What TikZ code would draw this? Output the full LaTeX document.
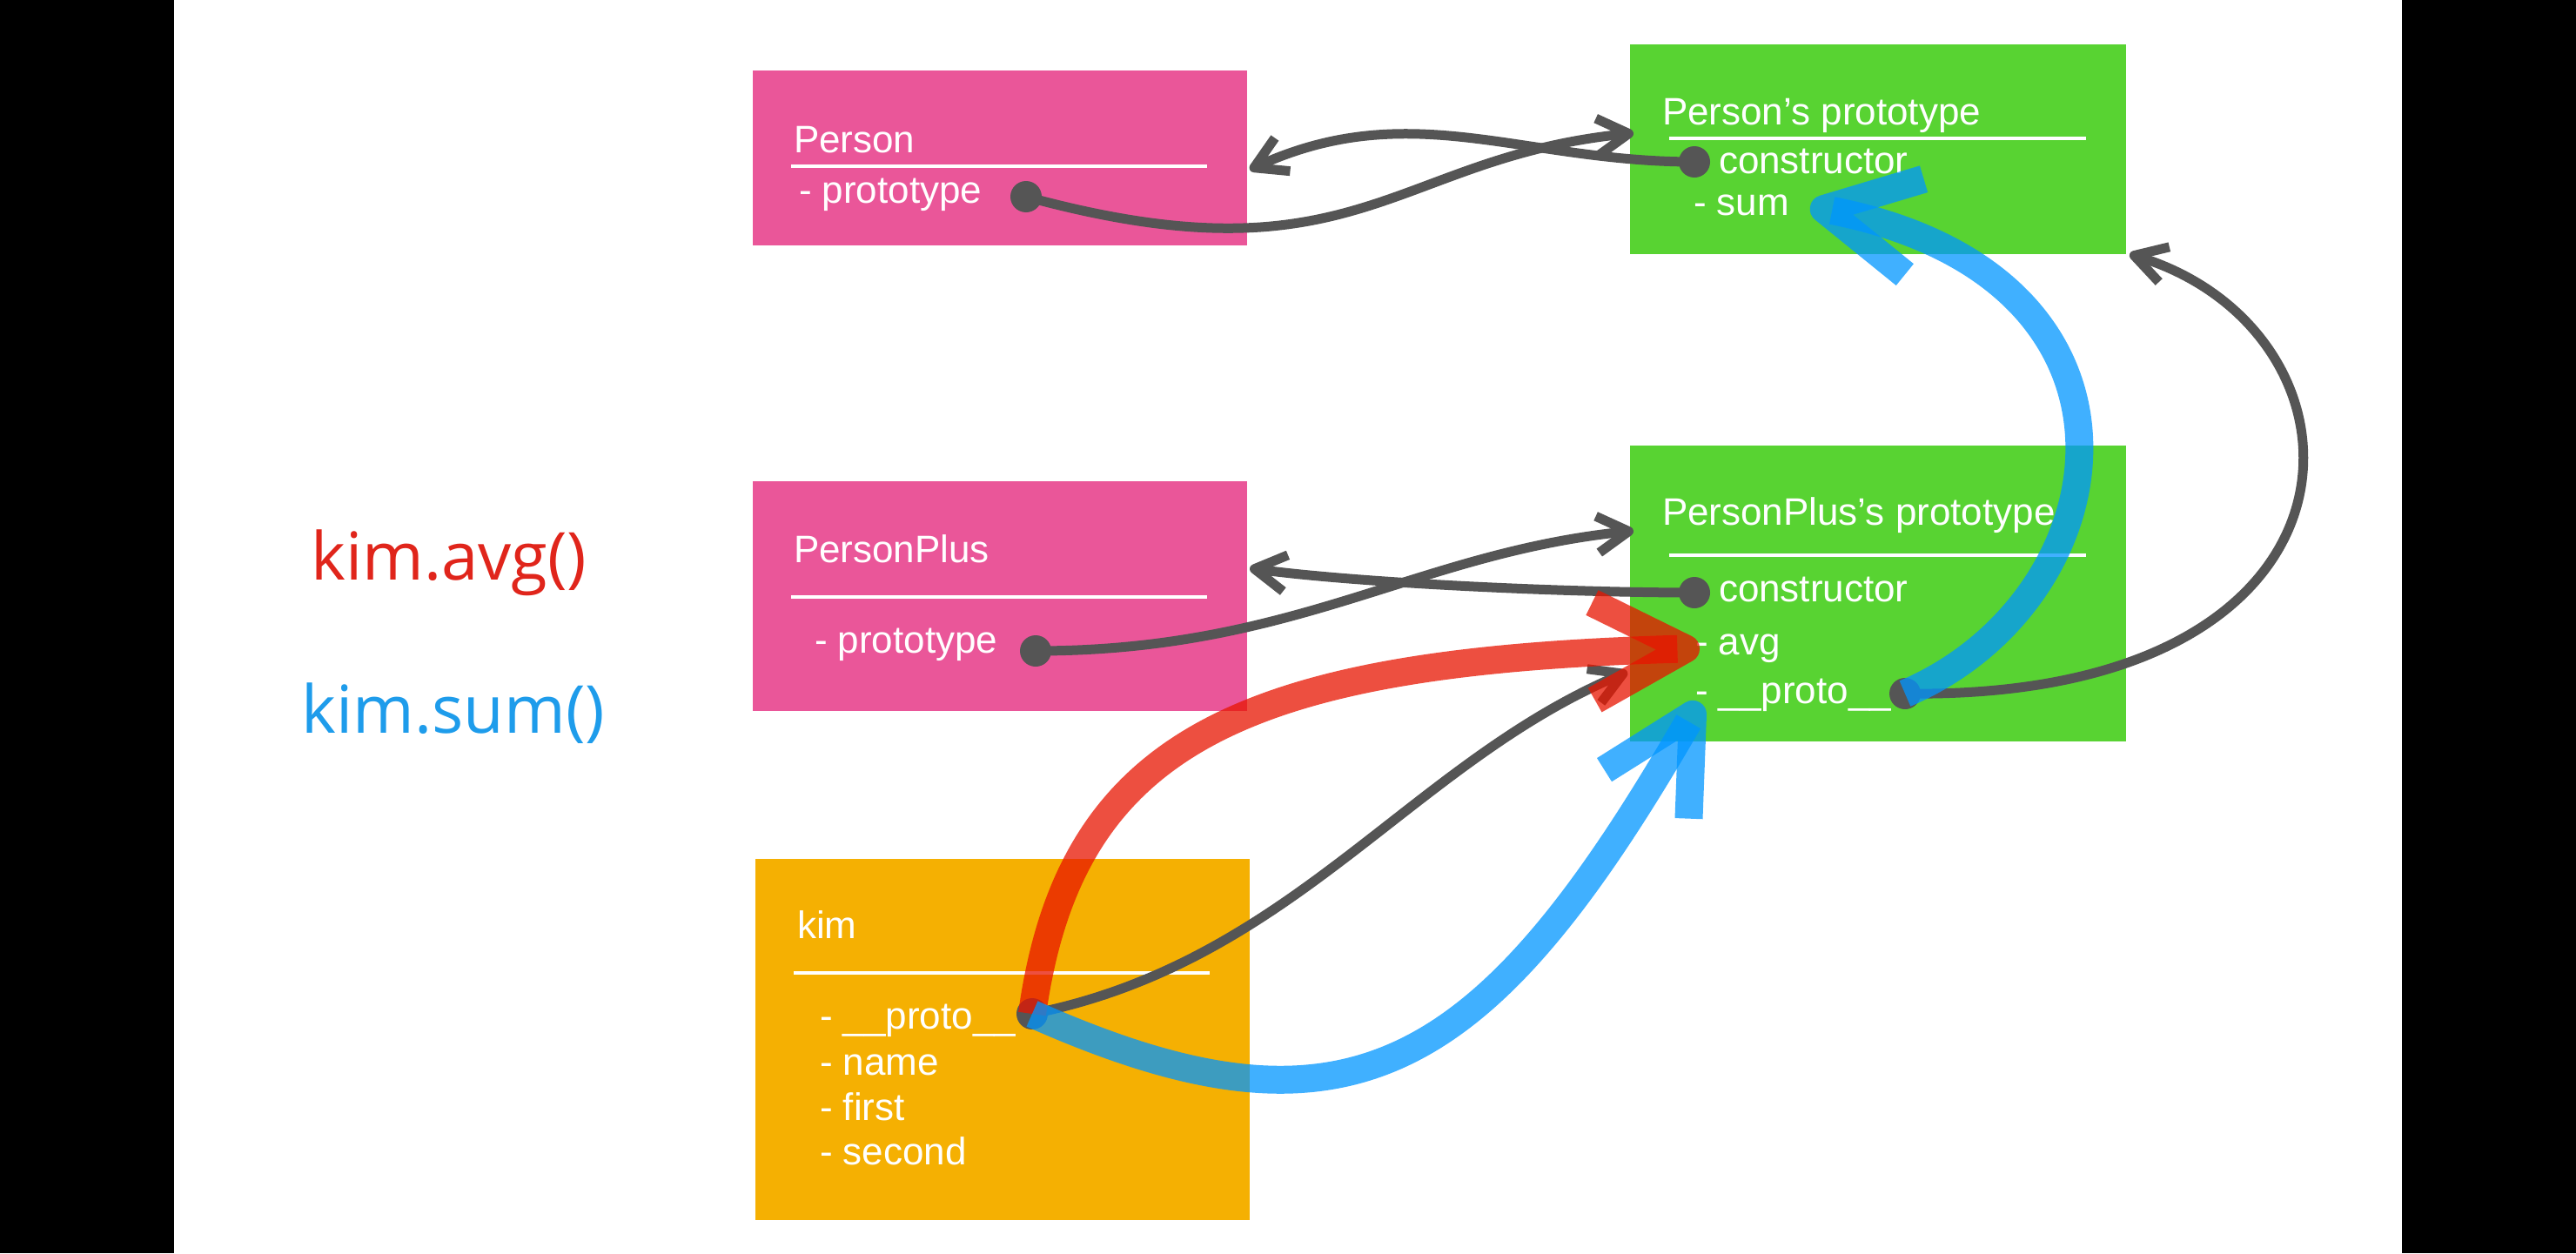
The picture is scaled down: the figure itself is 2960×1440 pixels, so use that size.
\documentclass[tikz,border=0pt]{standalone}
\usepackage{fontspec}
\setmainfont{Liberation Sans}
\newfontfamily\callfont{Open Sans}
\usetikzlibrary{arrows.meta}

\definecolor{personpink}{RGB}{234,86,153}
\definecolor{protogreen}{RGB}{88,211,50}
\definecolor{kimorange}{RGB}{245,176,2}
\definecolor{linkgray}{RGB}{85,85,85}
\definecolor{avgred}{RGB}{232,21,0}
\definecolor{sumblue}{RGB}{0,150,255}
\definecolor{avgtext}{RGB}{224,37,27}
\definecolor{sumtext}{RGB}{30,156,235}

% open chevron tip: rounded point, square-cut arm ends
\pgfdeclarearrow{
  name = Chev,
  parameters = {\the\pgfarrowlength,\the\pgfarrowwidth,\the\pgfarrowlinewidth},
  setup code = {
    \pgfarrowssettipend{.5\pgfarrowlinewidth}
    \pgfarrowssetlineend{-.3\pgfarrowlinewidth}
    \pgfarrowssetbackend{-\pgfarrowlength}
    \pgfarrowsupperhullpoint{-\pgfarrowlength}{.5\pgfarrowwidth}
    \pgfarrowshullpoint{.5\pgfarrowlinewidth}{0pt}
    \pgfarrowssavethe\pgfarrowlength
    \pgfarrowssavethe\pgfarrowwidth
    \pgfarrowssavethe\pgfarrowlinewidth
  },
  drawing code = {
    \pgfsetlinewidth{\pgfarrowlinewidth}
    \pgfsetroundjoin
    \pgfsetbuttcap
    \pgfsetdash{}{+0pt}
    \pgfpathmoveto{\pgfqpoint{-\pgfarrowlength}{.5\pgfarrowwidth}}
    \pgfpathlineto{\pgfpointorigin}
    \pgfpathlineto{\pgfqpoint{-\pgfarrowlength}{-.5\pgfarrowwidth}}
    \pgfusepathqstroke
  },
  defaults = {length = 18pt, width = 21pt, line width = +0pt 1 1}
}

\begin{document}
\begin{tikzpicture}[x=0.5pt, y=-0.5pt,
  objbox/.style={anchor=north west, inner sep=0pt, outer sep=0pt, minimum width=284pt},
  field/.style={anchor=base west, inner sep=0pt, outer sep=0pt, text=white,
    font=\fontsize{22pt}{26pt}\selectfont},
  titlerule/.style={draw=white, line width=1.6pt},
  dot/.style={circle, fill=linkgray, inner sep=0pt, outer sep=0pt, minimum size=18pt},
  link/.style={draw=linkgray, line width=5.5pt, -{Chev[length=18pt,width=21pt]}},
  bigarrow/.style={draw opacity=0.75, line width=16pt, -{Chev[length=53pt,width=56pt]}},
  avgpath/.style={bigarrow, draw=avgred},
  sumpath/.style={bigarrow, draw=sumblue},
  call/.style={anchor=base west, inner sep=0pt, font=\callfont\fontsize{38pt}{44pt}\selectfont},
]
\useasboundingbox (0,0) rectangle (2960,1440);
\fill[white] (0,0) rectangle (2960,1440);
\fill[black] (0,0) rectangle (200,1440);
\fill[black] (2760,0) rectangle (2960,1440);

% method calls
\node[call, text=avgtext] (callavg) at (357,666) {kim.avg()};
\node[call, text=sumtext] (callsum) at (346,842) {kim.sum()};

% Person
\node[objbox, fill=personpink, minimum height=100.5pt] (person) at (865,81) {};
\node[field] (personname) at (912,175) {Person};
\draw[titlerule] (909,191) -- (1387,191);
\node[field] (personfield) at (918,233) {- prototype};

% Person's prototype
\node[objbox, fill=protogreen, minimum width=285pt, minimum height=120.5pt] (pproto) at (1873,51) {};
\node[field] (pprotoname) at (1910,143) {Person’s prototype};
\draw[titlerule] (1918,159) -- (2397,159);
\node[field] (pprotocons) at (1975,199) {constructor};
\node[field] (pprotosum) at (1946,247) {- sum};

% PersonPlus
\node[objbox, fill=personpink, minimum height=132pt] (plus) at (865,553) {};
\node[field] (plusname) at (912,646) {PersonPlus};
\draw[titlerule] (909,686) -- (1387,686);
\node[field] (plusfield) at (936,750) {- prototype};

% PersonPlus's prototype
\node[objbox, fill=protogreen, minimum width=285pt, minimum height=170pt] (plproto) at (1873,512) {};
\node[field] (plprotoname) at (1910,603) {PersonPlus’s prototype};
\draw[titlerule] (1918,638) -- (2397,638);
\node[field] (plprotocons) at (1975,691) {constructor};
\node[field] (plprotoavg) at (1948,752) {- avg};
\node[field] (plprotolink) at (1948,808) {- \_\_proto\_\_};

% kim
\node[objbox, fill=kimorange, minimum height=207.5pt] (kim) at (868,987) {};
\node[field] (kimname) at (916,1078) {kim};
\draw[titlerule] (912,1118) -- (1390,1118);
\node[field] (kimlink) at (942,1182) {- \_\_proto\_\_};
\node[field] (kimname2) at (942,1235) {- name};
\node[field] (kimfirst) at (942,1287) {- first};
\node[field] (kimsecond) at (942,1338) {- second};

% reference dots
\node[dot] (d1) at (1179,226) {};
\node[dot] (d2) at (1947,186) {};
\node[dot] (d3) at (1190,748) {};
\node[dot] (d4) at (1947,681) {};
\node[dot] (d5) at (2189,797) {};
\node[dot] (d6) at (1186,1165) {};

% arrow targets
\coordinate (t1) at (1877,153);
\coordinate (t2) at (1436,195);
\coordinate (t3) at (1877,610);
\coordinate (t4) at (1436,653);
\coordinate (t5) at (2447,292);
\coordinate (t6) at (1870,772);
\coordinate (t7) at (1953,745);
\coordinate (t8) at (1953,807);
\coordinate (t9) at (2080,237);

% references
\draw[link] (d1.center) .. controls +(381,104) and +(-277,27) .. (t1);
\draw[link] (d2.center) .. controls +(-200,0) and +(184,-85) .. (t2);
\draw[link] (d3.center) .. controls +(300,0) and +(-250,25) .. (t3);
\draw[link] (d4.center) .. controls +(-147,0) and +(124,17) .. (t4);
\draw[link] (d5.center) .. controls +(561,8) and +(293,88) .. (t5);
\draw[link] (d6.center) .. controls +(300,-60) and +(-250,105) .. (t6);

% lookup paths
\draw[avgpath] (d6.center) .. controls +(44,-315) and +(-523,15) .. (t7);
\draw[sumpath] (d6.center) .. controls +(360,160) and +(-250,433) .. (t8);
\draw[sumpath] (d5.center) .. controls +(251,-107) and +(420,83) .. (t9);
\end{tikzpicture}
\end{document}
